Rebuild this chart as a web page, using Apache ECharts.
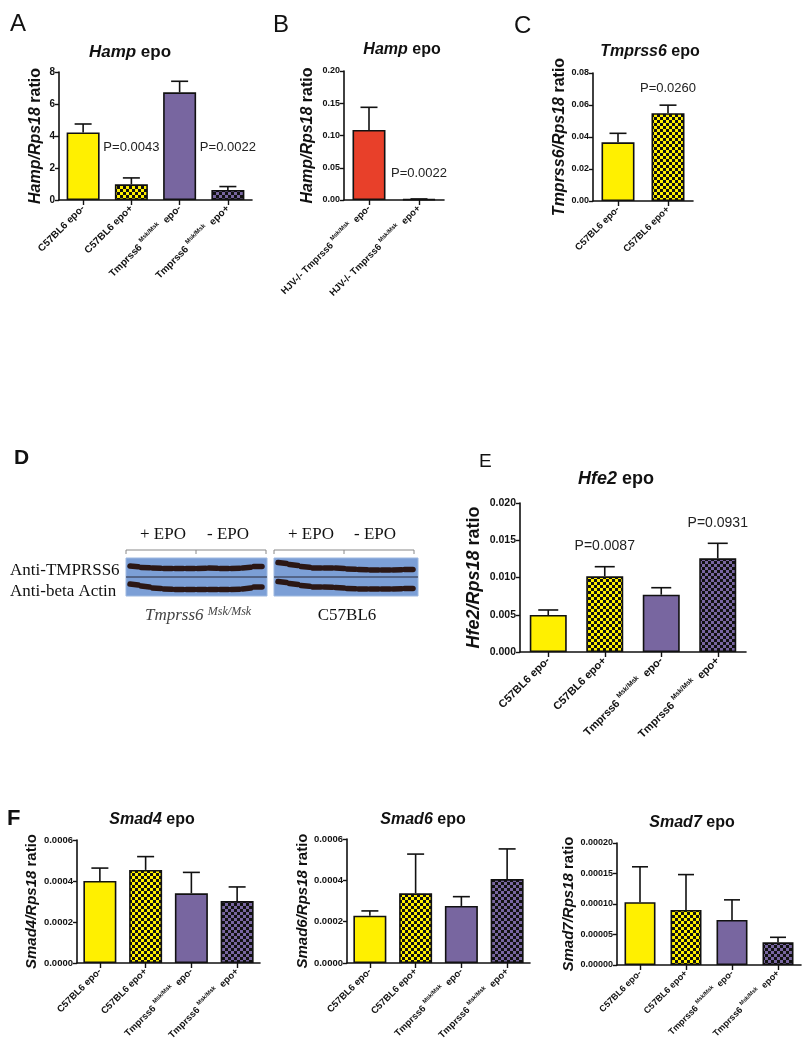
<!DOCTYPE html>
<html><head><meta charset="utf-8">
<script src="https://cdn.jsdelivr.net/npm/echarts@6/dist/echarts.min.js"></script>
<style>html,body{margin:0;padding:0;background:#fff}#c{width:806px;height:1050px}</style>
</head><body><div id="c"></div>
<script>
// ---------------- DATA ----------------
const catsWT = ['C57BL6 epo-', 'C57BL6 epo+', 'Tmprss6 Msk/Msk epo-', 'Tmprss6 Msk/Msk epo+'];
const catsHJV = ['HJV-/- Tmprss6 Msk/Msk epo-', 'HJV-/- Tmprss6 Msk/Msk epo+'];
const catsC57 = ['C57BL6 epo-', 'C57BL6 epo+'];

const hampA_mean = [4.22, 0.98, 6.73, 0.63];
const hampA_err  = [0.53, 0.40, 0.69, 0.21];
const hampB_mean = [0.1085, 0.0012];
const hampB_err  = [0.0352, 0.0004];
const tmprssC_mean = [0.0367, 0.0549];
const tmprssC_err  = [0.0056, 0.0050];
const hfe2_mean = [0.00497, 0.01016, 0.00769, 0.01258];
const hfe2_err  = [0.00067, 0.00129, 0.00094, 0.00201];
const smad4_mean = [0.000400, 0.000454, 0.000340, 0.000302];
const smad4_err  = [0.000063, 0.000065, 0.000102, 0.000069];
const smad6_mean = [0.000229, 0.000337, 0.000276, 0.000406];
const smad6_err  = [0.000023, 0.000190, 0.000045, 0.000146];
const smad7_mean = [0.000103, 0.0000902, 0.0000738, 0.0000372];
const smad7_err  = [0.000058, 0.000058, 0.000033, 0.0000082];

const fillsWT = ['yellow', 'yellowCheck', 'purple', 'purpleCheck'];
const fillsHJV = ['red', 'red'];
const fillsC57 = ['yellow', 'yellowCheck'];

const pA_text = ['P=0.0043', 'P=0.0022']; const pA_cat = [1, 3]; const pA_y = [3.31, 3.31];
const pB_text = ['P=0.0022']; const pB_cat = [1]; const pB_y = [0.0419];
const pC_text = ['P=0.0260']; const pC_cat = [1]; const pC_y = [0.0706];
const pE_text = ['P=0.0087', 'P=0.0931']; const pE_cat = [1, 3]; const pE_y = [0.01423, 0.01732];

// ---------------- STYLE ----------------
const SANS = '"Liberation Sans", Arial, sans-serif';
const SERIF = '"Liberation Serif", "Times New Roman", serif';
const INK = '#111';
const COL = { yellow: '#FFF000', purple: '#7866A0', red: '#E8402A' };
function checker(c) {
  const cv = document.createElement('canvas'); cv.width = 6; cv.height = 6;
  const g = cv.getContext('2d');
  g.fillStyle = '#111'; g.fillRect(0, 0, 6, 6);
  g.fillStyle = c; g.fillRect(0, 0, 3, 3); g.fillRect(3, 3, 3, 3);
  return { image: cv, repeat: 'repeat' };
}
const FILL = {
  yellow: COL.yellow, purple: COL.purple, red: COL.red,
  yellowCheck: checker(COL.yellow), purpleCheck: checker(COL.purple)
};

const panels = [
  { cats: catsWT, mean: hampA_mean, err: hampA_err, fills: fillsWT, left: 59, top: 72, width: 193, height: 128,
    max: 8, interval: 2, dec: 0, bw: 33, cap: 17, tickFs: 10, labFs: 10, yname: ['Hamp/Rps18', ' ratio'], nameFs: 16, nameGap: 15,
    p: [pA_text, pA_cat, pA_y], pFs: 13 },
  { cats: catsHJV, mean: hampB_mean, err: hampB_err, fills: fillsHJV, left: 344, top: 71, width: 100, height: 129,
    max: 0.2, interval: 0.05, dec: 2, bw: 33, cap: 17, tickFs: 9, labFs: 9.5, yname: ['Hamp/Rps18', ' ratio'], nameFs: 16, nameGap: 28,
    p: [pB_text, pB_cat, pB_y], pFs: 13 },
  { cats: catsC57, mean: tmprssC_mean, err: tmprssC_err, fills: fillsC57, left: 593, top: 73, width: 100, height: 128,
    max: 0.08, interval: 0.02, dec: 2, bw: 33, cap: 17, tickFs: 9, labFs: 9.5, yname: ['Tmprss6/Rps18', ' ratio'], nameFs: 16, nameGap: 22,
    p: [pC_text, pC_cat, pC_y], pFs: 13 },
  { cats: catsWT, mean: hfe2_mean, err: hfe2_err, fills: fillsWT, left: 520, top: 503, width: 226, height: 149,
    max: 0.02, interval: 0.005, dec: 3, bw: 37, cap: 20, tickFs: 10.5, labFs: 11, yname: ['Hfe2/Rps18', ' ratio'], nameFs: 18, nameGap: 37,
    p: [pE_text, pE_cat, pE_y], pFs: 14 },
  { cats: catsWT, mean: smad4_mean, err: smad4_err, fills: fillsWT, left: 77, top: 840, width: 183, height: 123,
    max: 0.0006, interval: 0.0002, dec: 4, bw: 33, cap: 17, tickFs: 9.5, labFs: 9.5, yname: ['Smad4/Rps18', ' ratio'], nameFs: 15, nameGap: 38 },
  { cats: catsWT, mean: smad6_mean, err: smad6_err, fills: fillsWT, left: 347, top: 839, width: 183, height: 124,
    max: 0.0006, interval: 0.0002, dec: 4, bw: 33, cap: 17, tickFs: 9.5, labFs: 9.5, yname: ['Smad6/Rps18', ' ratio'], nameFs: 15, nameGap: 37 },
  { cats: catsWT, mean: smad7_mean, err: smad7_err, fills: fillsWT, left: 617, top: 843, width: 184, height: 122,
    max: 0.0002, interval: 0.00005, dec: 5, bw: 31, cap: 16, tickFs: 9, labFs: 9, yname: ['Smad7/Rps18', ' ratio'], nameFs: 15, nameGap: 37 }
];

function labelFmt(v) {
  const parts = v.split(' Msk/Msk ');
  if (parts.length === 2) return '{a|' + parts[0] + ' }{s|Msk/Msk}{a|  ' + parts[1] + '}';
  return '{a|' + v + '}';
}

const grid = [], xAxis = [], yAxis = [], series = [];
panels.forEach((P, i) => {
  grid.push({ left: P.left, top: P.top, width: P.width, height: P.height, containLabel: false, outerBoundsMode: 'none' });
  xAxis.push({
    type: 'category', gridIndex: i, data: P.cats,
    axisLine: { show: true, lineStyle: { color: INK, width: 1.6 } },
    axisTick: { show: true, alignWithLabel: true, length: 5, lineStyle: { color: INK, width: 1.4 } },
    splitLine: { show: false },
    axisLabel: {
      interval: 0, rotate: 45, margin: 7, hideOverlap: false, formatter: labelFmt,
      rich: {
        a: { fontSize: P.labFs, fontWeight: 'bold', fontFamily: SANS, color: INK, lineHeight: P.labFs + 4 },
        s: { fontSize: P.labFs * 0.62, fontWeight: 'bold', fontFamily: SANS, color: INK, verticalAlign: 'top', lineHeight: P.labFs * 0.7 }
      }
    }
  });
  yAxis.push({
    type: 'value', gridIndex: i, min: 0, max: P.max, interval: P.interval,
    axisLine: { show: true, lineStyle: { color: INK, width: 1.6 } },
    axisTick: { show: true, length: 4, lineStyle: { color: INK, width: 1.4 } },
    splitLine: { show: false },
    axisLabel: { fontSize: P.tickFs, fontWeight: 'bold', fontFamily: SANS, color: INK, margin: 4,
      formatter: v => Number(v).toFixed(P.dec) },
    name: '{i|' + P.yname[0] + '}{n|' + P.yname[1] + '}',
    nameLocation: 'middle', nameRotate: 90, nameGap: P.nameGap,
    nameTextStyle: {
      rich: {
        i: { fontSize: P.nameFs, fontWeight: 'bold', fontStyle: 'italic', fontFamily: SANS, color: INK },
        n: { fontSize: P.nameFs, fontWeight: 'bold', fontFamily: SANS, color: INK }
      }
    }
  });
  series.push({
    type: 'bar', xAxisIndex: i, yAxisIndex: i, barWidth: P.bw, z: 2,
    data: P.mean.map((v, k) => ({ value: v, itemStyle: { color: FILL[P.fills[k]], borderColor: INK, borderWidth: 1.6 } })),
    emphasis: { disabled: true }, silent: true
  });
  series.push({
    type: 'custom', xAxisIndex: i, yAxisIndex: i, z: 3, silent: true,
    data: P.mean.map((v, k) => [k, v, v + P.err[k]]),
    encode: { x: 0, y: [1, 2] },
    renderItem: (params, api) => {
      const x = api.value(0);
      const p0 = api.coord([x, api.value(1)]);
      const p1 = api.coord([x, api.value(2)]);
      const hw = P.cap / 2;
      return { type: 'group', children: [
        { type: 'line', shape: { x1: p0[0], y1: p0[1], x2: p1[0], y2: p1[1] }, style: { stroke: INK, lineWidth: 1.6 } },
        { type: 'line', shape: { x1: p1[0] - hw, y1: p1[1], x2: p1[0] + hw, y2: p1[1] }, style: { stroke: INK, lineWidth: 1.6 } }
      ] };
    }
  });
  if (P.p) {
    const [txt, cat, yv] = P.p;
    series.push({
      type: 'custom', xAxisIndex: i, yAxisIndex: i, z: 4, silent: true,
      data: txt.map((t, k) => [cat[k], yv[k]]),
      renderItem: (params, api) => {
        const c = api.coord([api.value(0), api.value(1)]);
        return { type: 'text', x: c[0], y: c[1], style: { text: txt[params.dataIndex], align: 'center', verticalAlign: 'middle',
          fontSize: P.pFs, fontFamily: SANS, fill: '#222' } };
      }
    });
  }
});

// ---------------- TEXT / BLOT GRAPHICS ----------------
const titleRich = fs => ({
  i: { fontSize: fs, fontWeight: 'bold', fontStyle: 'italic', fontFamily: SANS, fill: INK },
  n: { fontSize: fs, fontWeight: 'bold', fontFamily: SANS, fill: INK }
});
const titles = [
  ['Hamp', ' epo', 130, 52, 17], ['Hamp', ' epo', 402, 50, 16], ['Tmprss6', ' epo', 650, 52, 16],
  ['Hfe2', ' epo', 616, 479, 18], ['Smad4', ' epo', 152, 820, 16], ['Smad6', ' epo', 423, 820, 16], ['Smad7', ' epo', 692, 823, 16]
];
const graphics = [];
titles.forEach(t => graphics.push({ type: 'text', x: t[2], y: t[3], silent: true,
  style: { text: '{i|' + t[0] + '}{n|' + t[1] + '}', rich: titleRich(t[4]), align: 'center', verticalAlign: 'middle' } }));

const letters = [['A', 10, 24, 24, 'normal'], ['B', 273, 25, 24, 'normal'], ['C', 514, 26, 24, 'normal'],
  ['D', 14, 458, 21, 'bold'], ['E', 479, 462, 19, 'normal'], ['F', 7, 819, 22, 'bold']];
letters.forEach(l => graphics.push({ type: 'text', x: l[1], y: l[2], silent: true,
  style: { text: l[0], fontSize: l[3], fontWeight: l[4], fontFamily: SANS, fill: INK, align: 'left', verticalAlign: 'middle' } }));

// Panel D: western blot
const serif = (text, x, y, opts) => graphics.push({ type: 'text', x, y, silent: true,
  style: Object.assign({ text, fontSize: 17, fontFamily: SERIF, fill: INK, align: 'center', verticalAlign: 'middle' }, opts || {}) });
serif('+ EPO', 163, 535); serif('- EPO', 228, 535); serif('+ EPO', 311, 535); serif('- EPO', 375, 535);
serif('Anti-TMPRSS6', 10, 571, { align: 'left' }); serif('Anti-beta Actin', 10, 592, { align: 'left' });
serif('C57BL6', 347, 616);
graphics.push({ type: 'text', x: 145, y: 616, silent: true, style: {
  text: '{i|Tmprss6 }{s|Msk/Msk}', align: 'left', verticalAlign: 'middle',
  rich: { i: { fontSize: 17, fontStyle: 'italic', fontFamily: SERIF, fill: '#444', lineHeight: 20 },
          s: { fontSize: 12, fontStyle: 'italic', fontFamily: SERIF, fill: '#444', verticalAlign: 'top', lineHeight: 12 } } } });

[[126, 196, 266], [274, 344, 414]].forEach(b => {
  graphics.push({ type: 'polyline', silent: true, shape: { points: [[b[0], 554], [b[0], 550], [b[2], 550], [b[2], 554]] },
    style: { stroke: '#888', lineWidth: 1, fill: null } });
  graphics.push({ type: 'line', silent: true, shape: { x1: b[1], y1: 550, x2: b[1], y2: 554 }, style: { stroke: '#888', lineWidth: 1 } });
});
const blots = [
  { x: 126, w: 141, up: [566, 567.5, 568, 568.5, 568.5, 568.5, 568.5, 568, 568.5, 568.5, 568, 566.5],
    lo: [584, 586, 588, 589, 589.5, 589.5, 589.5, 589.5, 589.5, 589.5, 589, 587] },
  { x: 274, w: 144, up: [562.5, 564.5, 566.5, 568, 568, 568, 569, 569.5, 570, 570, 570, 569.5],
    lo: [581.5, 583.5, 585.5, 587, 587, 587.5, 588.5, 589, 589, 589, 589, 588.5] }
];
blots.forEach(B => {
  graphics.push({ type: 'rect', silent: true, shape: { x: B.x, y: 558, width: B.w, height: 38 },
    style: { fill: '#7C9FD6', stroke: '#9DB8E0', lineWidth: 1 } });
  graphics.push({ type: 'line', silent: true, shape: { x1: B.x, y1: 577, x2: B.x + B.w, y2: 577 }, style: { stroke: '#2a2a3a', lineWidth: 1 } });
  const n = B.up.length, lw = (B.w - 6) / n;
  [B.up, B.lo].forEach(arr => {
    arr.forEach((y, k) => {
      const x0 = B.x + 4 + k * lw, x1 = x0 + lw - 3;
      const yn = k + 1 < n ? arr[k + 1] : y;
      graphics.push({ type: 'line', silent: true, shape: { x1: x0, y1: y, x2: x1, y2: (y + yn) / 2 },
        style: { stroke: '#2B1715', lineWidth: 5.5, lineCap: 'round' } });
    });
  });
});

const chart = echarts.init(document.getElementById('c'), null, { renderer: 'canvas', width: 806, height: 1050 });
chart.setOption({
  backgroundColor: '#ffffff', animation: false,
  grid, xAxis, yAxis, series, graphic: graphics
});
</script></body></html>
